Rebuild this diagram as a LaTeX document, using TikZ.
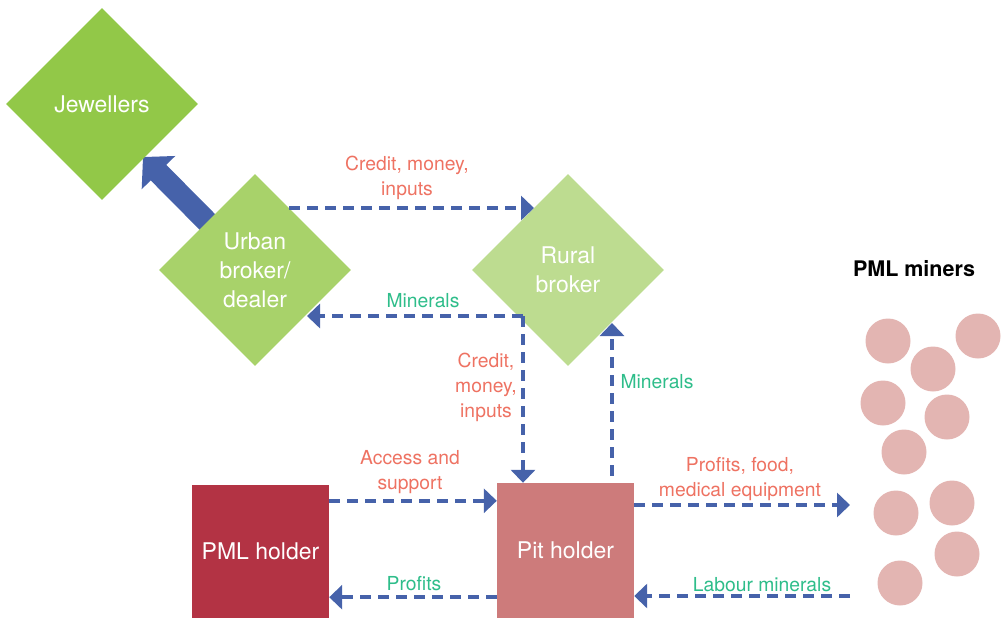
\documentclass[tikz,border=0pt]{standalone}
\usepackage{fontspec}
\setmainfont{TeX Gyre Heros}
\usetikzlibrary{shapes.geometric,arrows.meta,calc}
\pgfdeclarelayer{bg}
\pgfsetlayers{bg,main}
\definecolor{jgreen}{HTML}{92C848}
\definecolor{ugreen}{HTML}{A8D26A}
\definecolor{rgreen}{HTML}{BDDC90}
\definecolor{pmlred}{HTML}{B33344}
\definecolor{pitred}{HTML}{CD7B7B}
\definecolor{minerpink}{HTML}{E3B5B2}
\definecolor{flowblue}{HTML}{4662AA}
\definecolor{salmon}{HTML}{EE7262}
\definecolor{mint}{HTML}{2EBD8A}
\begin{document}
\begin{tikzpicture}[x=1pt,y=-1pt,
  diam/.style={diamond, shape aspect=1, minimum width=192pt, minimum height=192pt, inner sep=0pt, text=white, font=\fontsize{23}{29}\selectfont, align=center},
  boxnode/.style={minimum width=137pt, inner sep=0pt, text=white, font=\fontsize{23}{29}\selectfont},
  flow/.style={draw=flowblue, line width=3.6pt, dash pattern=on 11pt off 7pt, -{Triangle[width=24pt,length=13pt]}},
  bigflow/.style={draw=flowblue, line width=22pt, -{Triangle[width=46pt,length=22pt]}},
  lbl/.style={font=\fontsize{19.3}{25}\selectfont, align=center},
  redlbl/.style={lbl, text=salmon},
  greenlbl/.style={lbl, text=mint},
  miner/.style={circle, fill=minerpink, minimum size=45pt, inner sep=0pt}
]
\useasboundingbox (0,0) rectangle (1002,619);

% diamonds
\node[diam, fill=jgreen] (jewel) at (102,104) {Jewellers};
\node[diam, fill=ugreen] (urban) at (255,270) {Urban\\broker/\\dealer};
\node[diam, fill=rgreen] (rural) at (568,270) {Rural\\broker};

% rectangles
\node[boxnode, fill=pmlred, minimum height=133pt] (pml) at (260.5,551.5) {PML holder};
\node[boxnode, fill=pitred, minimum height=135pt] (pit) at (565.5,550.5) {Pit holder};

% thick arrow behind the diamonds
\begin{pgfonlayer}{bg}
\draw[bigflow] (urban.center) -- ($(jewel.center)+(41,53)$);
\end{pgfonlayer}

% connectors
\coordinate (rb) at ($(rural.center)+(-45,46)$);
\draw[flow] ($(urban.center)+(34,-62)$) -- ($(rural.center)+(-34,-62)$);
\draw[flow] (rb) -- ($(urban.center)+(52,46)$);
\draw[flow] (rb) -- (rb |- pit.north);
\draw[flow] ($(pit.north)+(46.5,-7)$) -- ($(rural.center)+(44,53)$);
\coordinate (acc) at ($(pml.north east)+(0,16)$);
\draw[flow] (acc) -- (acc -| pit.west);
\coordinate (prf) at ($(pit.south west)+(0,-21)$);
\draw[flow] (prf) -- (prf -| pml.east);
\coordinate (minA) at (850,505);
\coordinate (minB) at (850,596);
\draw[flow] (pit.east |- minA) -- (minA);
\draw[flow] (minB) -- (pit.east |- minB);

% labels
\node[redlbl] (l1) at (407,178) {Credit, money,\\inputs};
\node[greenlbl] (l2) at (423,301) {Minerals};
\node[redlbl] (l3) at (486,387) {Credit,\\money,\\inputs};
\node[greenlbl] (l4) at (657,382) {Minerals};
\node[redlbl] (l5) at (410,472) {Access and\\support};
\node[greenlbl] (l6) at (414,584) {Profits};
\node[redlbl] (l7) at (740,479) {Profits, food,\\medical equipment};
\node[greenlbl] (l8) at (762,585) {Labour minerals};
\node[font=\fontsize{21.5}{24}\selectfont\bfseries] (title) at (914,269) {PML miners};

% miners
\node[miner] (m1) at (888,341) {};
\node[miner] (m2) at (978,336) {};
\node[miner] (m3) at (933,369) {};
\node[miner] (m4) at (883,403) {};
\node[miner] (m5) at (947,417) {};
\node[miner] (m6) at (904,452) {};
\node[miner] (m7) at (896,513) {};
\node[miner] (m8) at (952,503) {};
\node[miner] (m9) at (957,554) {};
\node[miner] (m10) at (900,583) {};
\end{tikzpicture}
\end{document}
